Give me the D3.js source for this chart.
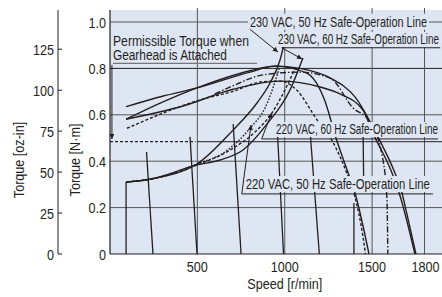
<!DOCTYPE html>
<html>
<head>
<meta charset="utf-8">
<script src="https://cdn.jsdelivr.net/npm/d3@7"></script>
<style>
    body { margin: 0; background: #fff; }
    text { font-family: "Liberation Sans", Arial, sans-serif; fill: #231f20; }
</style>
</head>
<body>
<div id="chart"></div>
<script>
// axis ticks
var speed_ticks  = [500, 1000, 1500, 1800];
var torque_ticks = [0, 0.2, 0.4, 0.6, 0.8, 1.0];
var ozin_ticks   = [0, 25, 50, 75, 100, 125];

// speed-torque curves (speed r/min, torque N·m)
var st1_speed  = [92, 300, 498, 801, 944, 1087, 1259, 1402, 1534, 1631, 1665, 1700, 1751];
var st1_torque = [0.635, 0.68, 0.716, 0.784, 0.81, 0.80, 0.759, 0.677, 0.504, 0.349, 0.28, 0.17, 0];
var st2_speed  = [92, 300, 498, 800, 944, 1126, 1230, 1297, 1363, 1402, 1482];
var st2_torque = [0.581, 0.655, 0.716, 0.79, 0.81, 0.78, 0.66, 0.491, 0.349, 0.263, 0];
var st3_speed  = [92, 418, 704, 973, 1202, 1316, 1448, 1505, 1614, 1660, 1745];
var st3_torque = [0.581, 0.638, 0.71, 0.745, 0.72, 0.69, 0.62, 0.52, 0.349, 0.25, 0];
var st4_speed  = [97, 515, 700, 876, 973, 1068, 1183, 1269, 1355, 1402, 1448, 1462];
var st4_torque = [0.542, 0.664, 0.70, 0.743, 0.745, 0.707, 0.58, 0.491, 0.349, 0.246, 0.073, 0];
var st5_speed  = [600, 700, 876, 1087, 1202, 1276, 1385, 1488, 1562, 1585, 1590];
var st5_torque = [0.69, 0.724, 0.772, 0.784, 0.772, 0.75, 0.634, 0.569, 0.405, 0.233, 0];

// safe-operation lines
var so1_speed  = [92, 229, 498, 704, 841, 916, 973, 996];
var so1_torque = [0.31, 0.323, 0.388, 0.534, 0.651, 0.737, 0.836, 0.905];
var so2_speed  = [92, 229, 498, 630, 761, 898, 1030, 1104];
var so2_torque = [0.31, 0.322, 0.384, 0.405, 0.448, 0.560, 0.707, 0.845];
var so3_speed  = [92, 229, 498, 658, 807, 887, 973];
var so3_torque = [0.31, 0.323, 0.388, 0.44, 0.547, 0.629, 0.81];
var so4_speed  = [92, 229, 498, 687, 830, 927, 1001, 1059];
var so4_torque = [0.31, 0.322, 0.384, 0.448, 0.526, 0.608, 0.707, 0.80];

// speed control lines: top point and bottom point
var set_top_speed  = [92, 209, 458, 705, 956, 1145, 1448, 1396];
var set_top_torque = [0.31, 0.44, 0.505, 0.56, 0.56, 0.53, 0.55, 0.22];
var set_bot_speed  = [92, 246, 498, 750, 993, 1198, 1452, 1396];
var set_bot_torque = [0, 0, 0, 0, 0, 0, 0.30, 0];

var permissible_torque = 0.484;

// labels
var label_text  = ['230 VAC, 50 Hz Safe-Operation Line', '230 VAC, 60 Hz Safe-Operation Line',
                   '220 VAC, 60 Hz Safe-Operation Line', '220 VAC, 50 Hz Safe-Operation Line'];
var label_width  = [177, 161, 162, 184];
var label_speed  = [801, 961, 950, 777];
var label_torque = [0.98, 0.905, 0.517, 0.28];
var line_from_speed  = [801, 983, 868, 754];
var line_from_torque = [0.9685, 0.889, 0.496, 0.259];
var line_to_speed    = [961, 1099, 925, 807];
var line_to_torque   = [0.871, 0.8405, 0.608, 0.556];
var under_end_speed  = [null, 1890, 1877, 1848];

var chart_width  = 442;
var chart_height = 297;
var plot_left = 110, plot_right = 442, plot_top = 10, plot_bottom = 254;
var narrow = 0.84;

// squeeze text like a narrow face
function condense(sel, k){
    sel.each(function(){
        var w = this.getComputedTextLength();
        d3.select(this)
            .attr( 'textLength', w * k )
            .attr( 'lengthAdjust', 'spacingAndGlyphs' );
    });
}

var svg = d3.select( '#chart' )
    .append( 'svg' )
    .attr( 'width', chart_width )
    .attr( 'height', chart_height );

var defs = svg.append( 'defs' );
defs.append( 'marker' )
    .attr( 'id', 'arrow' )
    .attr( 'viewBox', '0 0 10 10' )
    .attr( 'refX', 10 )
    .attr( 'refY', 5 )
    .attr( 'markerWidth', 7 )
    .attr( 'markerHeight', 5 )
    .attr( 'markerUnits', 'userSpaceOnUse' )
    .attr( 'orient', 'auto' )
    .append( 'path' )
    .attr( 'd', 'M0,0 L10,5 L0,10 Z' )
    .attr( 'fill', '#231f20' );

// scales
var x_scale = d3.scaleLinear().domain([0, 1900]).range([plot_left, plot_right]);
var y_scale = d3.scaleLinear().domain([0, 1]).range([plot_bottom, 22]);
var oz_scale = d3.scaleLinear().domain([0, 141.612]).range([plot_bottom, 22]);

// plot background
svg.append( 'rect' )
    .attr( 'x', plot_left )
    .attr( 'y', plot_top )
    .attr( 'width', plot_right - plot_left )
    .attr( 'height', plot_bottom - plot_top )
    .attr( 'fill', '#dfe6f3' );

// grid
svg.selectAll( '.hgrid' )
    .data( torque_ticks.filter(function(d){ return d > 0; }) )
    .enter()
    .append( 'line' )
    .attr( 'x1', plot_left )
    .attr( 'x2', plot_right )
    .attr( 'y1', function(d){ return y_scale(d); } )
    .attr( 'y2', function(d){ return y_scale(d); } )
    .attr( 'stroke', function(d){ return d === 0.8 ? '#231f20' : '#555' ; } )
    .attr( 'stroke-width', 1 );

svg.selectAll( '.vgrid' )
    .data( speed_ticks )
    .enter()
    .append( 'line' )
    .attr( 'x1', function(d){ return x_scale(d); } )
    .attr( 'x2', function(d){ return x_scale(d); } )
    .attr( 'y1', plot_top - 2 )
    .attr( 'y2', plot_bottom )
    .attr( 'stroke', '#555' )
    .attr( 'stroke-width', 1 );

// permissible torque line
var py = y_scale(permissible_torque);
svg.append( 'line' )
    .attr( 'x1', plot_left ).attr( 'x2', x_scale(490) )
    .attr( 'y1', py ).attr( 'y2', py )
    .attr( 'stroke', '#231f20' )
    .attr( 'stroke-width', 1.2 )
    .attr( 'stroke-dasharray', '3,2' );
svg.append( 'line' )
    .attr( 'x1', x_scale(498) ).attr( 'x2', plot_right )
    .attr( 'y1', py ).attr( 'y2', py )
    .attr( 'stroke', '#231f20' )
    .attr( 'stroke-width', 1 );

var line_gen = d3.line()
    .x(function(d){ return x_scale(d[0]); })
    .y(function(d){ return y_scale(d[1]); })
    .curve(d3.curveMonotoneX);

function pts(s, t){
    return s.map(function(v, i){ return [v, t[i]]; });
}

var curves = [
    { p: pts(st1_speed, st1_torque), dash: null },
    { p: pts(st2_speed, st2_torque), dash: null },
    { p: pts(st3_speed, st3_torque), dash: null },
    { p: pts(st4_speed, st4_torque), dash: '3,2' },
    { p: pts(st5_speed, st5_torque), dash: '6,2,1.5,2' },
    { p: pts(so1_speed, so1_torque), dash: null },
    { p: pts(so2_speed, so2_torque), dash: null },
    { p: pts(so3_speed, so3_torque), dash: '1.6,1.6' },
    { p: pts(so4_speed, so4_torque), dash: '3,2' }
];

svg.selectAll( '.curve' )
    .data( curves )
    .enter()
    .append( 'path' )
    .attr( 'd', function(d){ return line_gen(d.p); } )
    .attr( 'fill', 'none' )
    .attr( 'stroke', '#231f20' )
    .attr( 'stroke-width', 1.4 )
    .attr( 'stroke-dasharray', function(d){ return d.dash; } );

// speed control lines
svg.selectAll( '.setline' )
    .data( set_top_speed )
    .enter()
    .append( 'line' )
    .attr( 'x1', function(d){ return x_scale(d); } )
    .attr( 'y1', function(d, i){ return y_scale(set_top_torque[i]); } )
    .attr( 'x2', function(d, i){ return x_scale(set_bot_speed[i]); } )
    .attr( 'y2', function(d, i){ return y_scale(set_bot_torque[i]); } )
    .attr( 'stroke', '#231f20' )
    .attr( 'stroke-width', 1.3 );

// axes frame
svg.append( 'line' )
    .attr( 'x1', plot_left ).attr( 'x2', plot_left )
    .attr( 'y1', plot_top ).attr( 'y2', plot_bottom )
    .attr( 'stroke', '#231f20' ).attr( 'stroke-width', 1.2 );
svg.append( 'line' )
    .attr( 'x1', plot_left ).attr( 'x2', plot_right )
    .attr( 'y1', plot_bottom ).attr( 'y2', plot_bottom )
    .attr( 'stroke', '#231f20' ).attr( 'stroke-width', 1.2 );

// safe-operation labels with knockout
var labels = svg.selectAll( '.lab' )
    .data( label_text )
    .enter()
    .append( 'g' );

labels.append( 'text' )
    .attr( 'x', function(d, i){ return x_scale(label_speed[i]); } )
    .attr( 'y', function(d, i){ return y_scale(label_torque[i]); } )
    .attr( 'font-size', function(d, i){ return i === 0 || i === 3 ? 15 : 14; } )
    .attr( 'textLength', function(d, i){ return label_width[i]; } )
    .attr( 'lengthAdjust', 'spacingAndGlyphs' )
    .text(function(d){ return d; })
    .each(function(d, i){
        var b = this.getBBox();
        d3.select(this.parentNode).insert( 'rect', 'text' )
            .attr( 'x', b.x - 2 )
            .attr( 'y', b.y + 1 )
            .attr( 'width', b.width + 4 )
            .attr( 'height', b.height - 1 )
            .attr( 'fill', '#dfe6f3' );
    });

labels.filter(function(d, i){ return under_end_speed[i] !== null; })
    .append( 'line' )
    .attr( 'x1', function(d){ var i = label_text.indexOf(d); return x_scale(line_from_speed[i]); } )
    .attr( 'x2', function(d){ var i = label_text.indexOf(d); return x_scale(under_end_speed[i]); } )
    .attr( 'y1', function(d){ var i = label_text.indexOf(d); return y_scale(line_from_torque[i]); } )
    .attr( 'y2', function(d){ var i = label_text.indexOf(d); return y_scale(line_from_torque[i]); } )
    .attr( 'stroke', '#231f20' )
    .attr( 'stroke-width', 1 );

labels.append( 'line' )
    .attr( 'x1', function(d, i){ return x_scale(line_from_speed[i]); } )
    .attr( 'y1', function(d, i){ return y_scale(line_from_torque[i]); } )
    .attr( 'x2', function(d, i){ return x_scale(line_to_speed[i]); } )
    .attr( 'y2', function(d, i){ return y_scale(line_to_torque[i]); } )
    .attr( 'stroke', '#231f20' )
    .attr( 'stroke-width', 1 )
    .attr( 'marker-end', 'url(#arrow)' );

// permissible torque label
svg.append( 'text' )
    .attr( 'x', x_scale(17) )
    .attr( 'y', y_scale(0.897) )
    .attr( 'font-size', 14 )
    .attr( 'textLength', 136 )
    .attr( 'lengthAdjust', 'spacingAndGlyphs' )
    .text( 'Permissible Torque when' );
svg.append( 'text' )
    .attr( 'x', x_scale(17) )
    .attr( 'y', y_scale(0.836) )
    .attr( 'font-size', 14 )
    .attr( 'textLength', 114 )
    .attr( 'lengthAdjust', 'spacingAndGlyphs' )
    .text( 'Gearhead is Attached' );
svg.append( 'line' )
    .attr( 'x1', x_scale(17) ).attr( 'x2', x_scale(841) )
    .attr( 'y1', y_scale(0.822) ).attr( 'y2', y_scale(0.822) )
    .attr( 'stroke', '#777' ).attr( 'stroke-width', 1.2 );
svg.append( 'line' )
    .attr( 'x1', x_scale(11) ).attr( 'x2', x_scale(11) )
    .attr( 'y1', y_scale(0.815) ).attr( 'y2', y_scale(permissible_torque + 0.012) )
    .attr( 'stroke', '#231f20' ).attr( 'stroke-width', 1 )
    .attr( 'marker-end', 'url(#arrow)' );

// N·m tick labels
svg.selectAll( '.ylab' )
    .data( torque_ticks )
    .enter()
    .append( 'text' )
    .attr( 'x', plot_left - 4 )
    .attr( 'y', function(d){ return y_scale(d) + 5.5; } )
    .attr( 'text-anchor', 'end' )
    .attr( 'font-size', 15 )
    .text(function(d){ return d === 0 ? '0' : d.toFixed(1); })
    .call(condense, narrow);

// oz-in axis
var oz_x = 58;
svg.append( 'line' )
    .attr( 'x1', oz_x ).attr( 'x2', oz_x )
    .attr( 'y1', plot_top ).attr( 'y2', plot_bottom )
    .attr( 'stroke', '#231f20' ).attr( 'stroke-width', 1 );
svg.selectAll( '.ozt' )
    .data( ozin_ticks )
    .enter()
    .append( 'line' )
    .attr( 'x1', oz_x ).attr( 'x2', oz_x + 4 )
    .attr( 'y1', function(d){ return oz_scale(d); } )
    .attr( 'y2', function(d){ return oz_scale(d); } )
    .attr( 'stroke', '#231f20' ).attr( 'stroke-width', 1 );
svg.selectAll( '.ozlab' )
    .data( ozin_ticks )
    .enter()
    .append( 'text' )
    .attr( 'x', oz_x - 4 )
    .attr( 'y', function(d){ return oz_scale(d) + 5.5; } )
    .attr( 'text-anchor', 'end' )
    .attr( 'font-size', 15 )
    .text(function(d){ return d; })
    .call(condense, narrow);

// x tick labels
svg.selectAll( '.xlab' )
    .data( speed_ticks )
    .enter()
    .append( 'text' )
    .attr( 'x', function(d){ return x_scale(d) + (d === 1800 ? 1 : 0); } )
    .attr( 'y', 272 )
    .attr( 'text-anchor', 'middle' )
    .attr( 'font-size', 15 )
    .text(function(d){ return d; })
    .call(condense, narrow);

// axis titles
svg.append( 'text' )
    .attr( 'x', x_scale(1000) )
    .attr( 'y', 289 )
    .attr( 'text-anchor', 'middle' )
    .attr( 'font-size', 15 )
    .text( 'Speed [r/min]' )
    .call(condense, narrow);
svg.append( 'text' )
    .attr( 'transform', 'translate(80,160) rotate(-90)' )
    .attr( 'text-anchor', 'middle' )
    .attr( 'font-size', 15 )
    .text( 'Torque [N·m]' )
    .call(condense, narrow);
svg.append( 'text' )
    .attr( 'transform', 'translate(24,160) rotate(-90)' )
    .attr( 'text-anchor', 'middle' )
    .attr( 'font-size', 15 )
    .text( 'Torque [oz-in]' )
    .call(condense, narrow);
</script>
</body>
</html>
